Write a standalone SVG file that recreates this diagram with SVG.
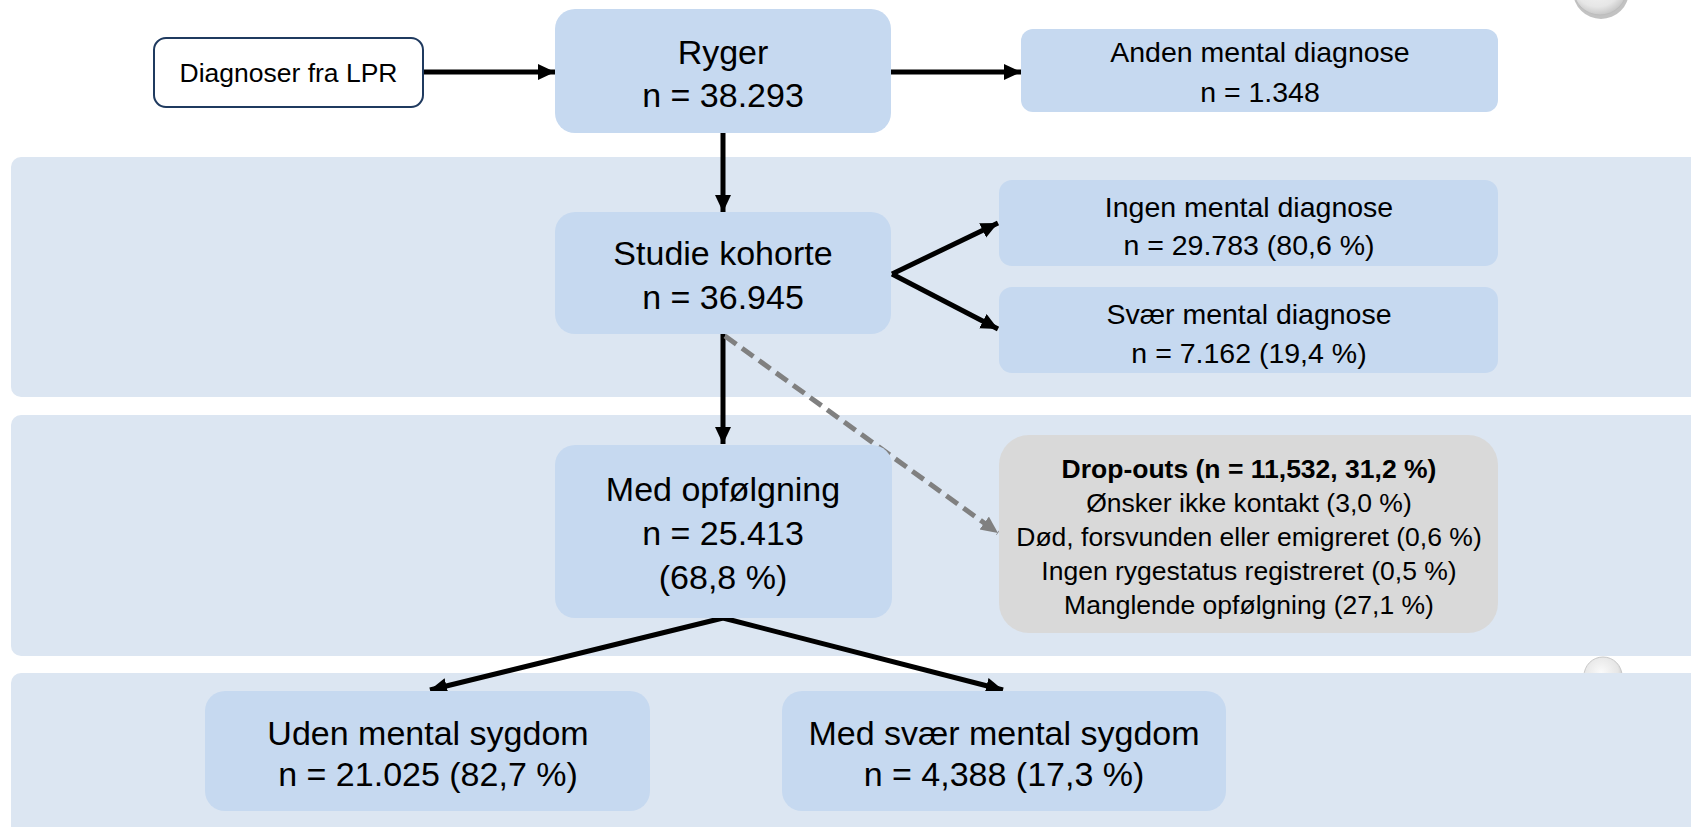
<svg xmlns="http://www.w3.org/2000/svg" width="1691" height="827" viewBox="0 0 1691 827">
  <defs>
    <style>
      .band { fill: #dce6f2; }
      .node { fill: #c6d9f0; }
      .drop { fill: #d9d9d9; }
      .src { fill: #ffffff; stroke: #1f3a5f; stroke-width: 2; }
      text { font-family: "Liberation Sans", Arial, sans-serif; fill: #000; text-anchor: middle; }
      .big { font-size: 34px; }
      .mid { font-size: 28.5px; }
      .sm { font-size: 26.5px; }
      .src-t { font-size: 26.5px; }
      .b { font-weight: bold; }
      .arr { stroke: #000; stroke-width: 5; fill: none; marker-end: url(#ah); }
      .dash { stroke: #808080; stroke-width: 5; fill: none; stroke-dasharray: 14 7; marker-end: url(#ahg); }
    </style>
    <marker id="ah" markerUnits="userSpaceOnUse" markerWidth="18" markerHeight="18" refX="17" refY="8" orient="auto">
      <path d="M0,0 L17,8 L0,16 z" fill="#000"/>
    </marker>
    <marker id="ahg" markerUnits="userSpaceOnUse" markerWidth="18" markerHeight="18" refX="17" refY="8" orient="auto">
      <path d="M0,0 L17,8 L0,16 z" fill="#808080"/>
    </marker>
    <radialGradient id="btn" cx="0.45" cy="0.4" r="0.6">
      <stop offset="0" stop-color="#fafafa"/>
      <stop offset="0.75" stop-color="#e6e6e6"/>
      <stop offset="1" stop-color="#c8c8c8"/>
    </radialGradient>
  </defs>

  <rect width="1691" height="827" fill="#ffffff"/>

  <g id="buttons">
    <circle cx="1601" cy="-9" r="28" fill="#9a9a9a" opacity="0.6"/>
    <circle cx="1600" cy="-12" r="27" fill="url(#btn)" stroke="#bdbdbd" stroke-width="1"/>
    <circle cx="1604" cy="679" r="19" fill="#9a9a9a" opacity="0.5"/>
    <circle cx="1603" cy="676" r="19" fill="url(#btn)" stroke="#c8c8c8" stroke-width="1"/>
  </g>

  <g id="bands">
    <rect class="band" x="11" y="157" width="1700" height="240" rx="10"/>
    <rect class="band" x="11" y="415" width="1700" height="241" rx="10"/>
    <rect class="band" x="11" y="673" width="1700" height="170" rx="10"/>
  </g>

  <g id="connectors">
    <line class="arr" x1="423" y1="72" x2="555" y2="72"/>
    <line class="arr" x1="891" y1="72" x2="1021" y2="72"/>
    <line class="arr" x1="723" y1="133" x2="723" y2="212"/>
    <line class="arr" x1="892" y1="274" x2="998" y2="223"/>
    <line class="arr" x1="892" y1="274" x2="998" y2="329"/>
    <line class="arr" x1="723" y1="334" x2="723" y2="444"/>
    <line class="dash" x1="725" y1="336" x2="998" y2="533"/>
    <line class="arr" x1="723" y1="618" x2="430" y2="690"/>
    <line class="arr" x1="723" y1="618" x2="1003" y2="690"/>
  </g>

  <g id="diagnoser">
    <rect class="src" x="154" y="38" width="269" height="69" rx="12"/>
    <text class="src-t" x="288.5" y="82">Diagnoser fra LPR</text>
  </g>

  <g id="ryger">
    <rect class="node" x="555" y="9" width="336" height="124" rx="20"/>
    <text class="big" x="723" y="64">Ryger</text>
    <text class="big" x="723" y="107">n = 38.293</text>
  </g>

  <g id="anden">
    <rect class="node" x="1021" y="29" width="477" height="83" rx="12"/>
    <text class="mid" x="1260" y="62">Anden mental diagnose</text>
    <text class="mid" x="1260" y="102">n = 1.348</text>
  </g>

  <g id="studie">
    <rect class="node" x="555" y="212" width="336" height="122" rx="20"/>
    <text class="big" x="723" y="265">Studie kohorte</text>
    <text class="big" x="723" y="309">n = 36.945</text>
  </g>

  <g id="ingen">
    <rect class="node" x="999" y="180" width="499" height="86" rx="13"/>
    <text class="mid" x="1249" y="217">Ingen mental diagnose</text>
    <text class="mid" x="1249" y="255">n = 29.783 (80,6 %)</text>
  </g>

  <g id="svaer">
    <rect class="node" x="999" y="287" width="499" height="86" rx="13"/>
    <text class="mid" x="1249" y="324">Svær mental diagnose</text>
    <text class="mid" x="1249" y="363">n = 7.162 (19,4 %)</text>
  </g>

  <g id="opfoelgning">
    <rect class="node" x="555" y="445" width="337" height="173" rx="20"/>
    <text class="big" x="723" y="501">Med opfølgning</text>
    <text class="big" x="723" y="545">n = 25.413</text>
    <text class="big" x="723" y="589">(68,8 %)</text>
  </g>

  <g id="dropouts">
    <rect class="drop" x="999" y="435" width="499" height="198" rx="30"/>
    <text class="sm b" x="1249" y="478">Drop-outs (n = 11,532, 31,2 %)</text>
    <text class="sm" x="1249" y="512">Ønsker ikke kontakt (3,0 %)</text>
    <text class="sm" x="1249" y="546">Død, forsvunden eller emigreret (0,6 %)</text>
    <text class="sm" x="1249" y="580">Ingen rygestatus registreret (0,5 %)</text>
    <text class="sm" x="1249" y="614">Manglende opfølgning (27,1 %)</text>
  </g>

  <g id="uden">
    <rect class="node" x="205" y="691" width="445" height="120" rx="20"/>
    <text class="big" x="428" y="745">Uden mental sygdom</text>
    <text class="big" x="428" y="786">n = 21.025 (82,7 %)</text>
  </g>

  <g id="medsvaer">
    <rect class="node" x="782" y="691" width="444" height="120" rx="20"/>
    <text class="big" x="1004" y="745">Med svær mental sygdom</text>
    <text class="big" x="1004" y="786">n = 4,388 (17,3 %)</text>
  </g>
</svg>
